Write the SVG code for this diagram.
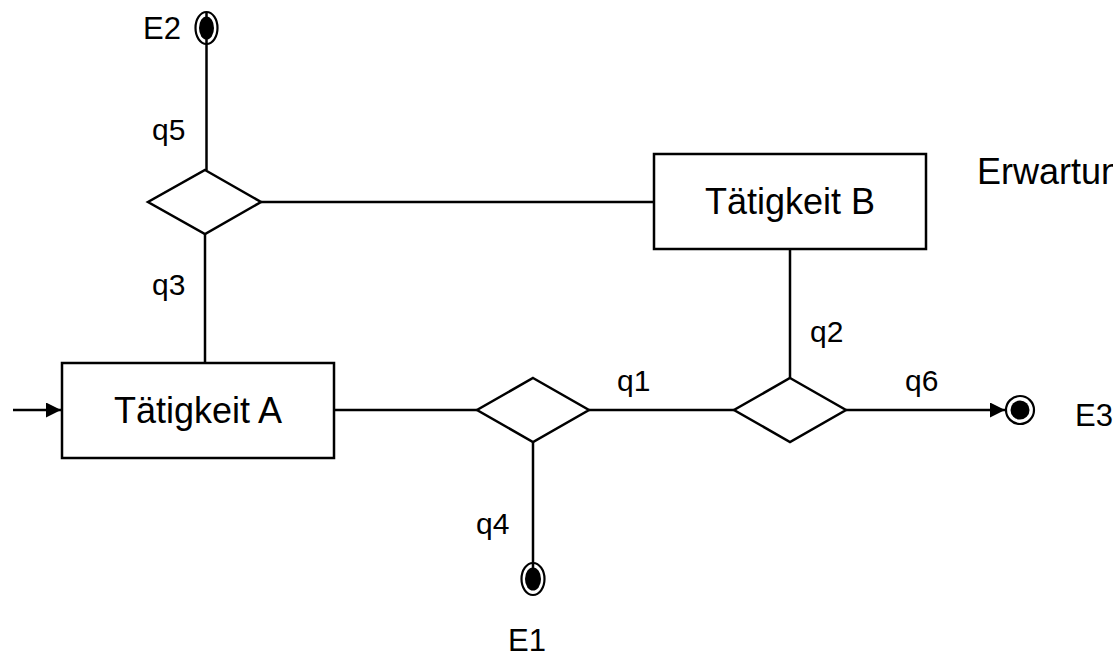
<svg xmlns="http://www.w3.org/2000/svg" width="1113" height="661" viewBox="0 0 1113 661">
  <style>
    .box { fill: #ffffff; stroke: #000000; stroke-width: 2.5; }
    .dia { fill: #ffffff; stroke: #000000; stroke-width: 2.5; stroke-linejoin: miter; }
    .wire { fill: none; stroke: #000000; stroke-width: 2.5; }
    .ring { fill: #ffffff; stroke: #000000; stroke-width: 2.2; }
    .dot { fill: #000000; }
    .big { font-family: "Liberation Sans", Arial, sans-serif; font-size: 36px; fill: #000000; }
    .lbl { font-family: "Liberation Sans", Arial, sans-serif; font-size: 30px; fill: #000000; }
  </style>
  <defs>
    <marker id="head" viewBox="0 0 10 10" refX="10" refY="5" markerWidth="7" markerHeight="6" markerUnits="strokeWidth" orient="auto">
      <path d="M0,0 L10,5 L0,10 Z" fill="#000000"/>
    </marker>
  </defs>
  <rect width="1113" height="661" fill="#ffffff"/>

  <!-- connectors -->
  <g id="connectors">
    <line class="wire" x1="206.5" y1="12" x2="206.5" y2="170"/>
    <line class="wire" x1="205" y1="234" x2="205" y2="363"/>
    <line class="wire" x1="261" y1="202" x2="654" y2="202"/>
    <line class="wire" x1="335" y1="410" x2="477" y2="410"/>
    <line class="wire" x1="589" y1="410" x2="734" y2="410"/>
    <line class="wire" x1="846" y1="410" x2="1005" y2="410" marker-end="url(#head)"/>
    <line class="wire" x1="790" y1="249" x2="790" y2="378"/>
    <line class="wire" x1="533" y1="442" x2="533" y2="563"/>
    <line class="wire" x1="13" y1="410" x2="61" y2="410" marker-end="url(#head)"/>
  </g>

  <!-- activities -->
  <g id="taetigkeit-a">
    <rect class="box" x="62" y="363" width="272" height="95"/>
    <text class="big" x="198" y="423" text-anchor="middle">Tätigkeit A</text>
  </g>
  <g id="taetigkeit-b">
    <rect class="box" x="654" y="154" width="272" height="95"/>
    <text class="big" x="790" y="214" text-anchor="middle">Tätigkeit B</text>
  </g>

  <!-- decision points -->
  <g id="verzweigung-1">
    <polygon class="dia" points="205,170 261,202 205,234 148,202"/>
  </g>
  <g id="verzweigung-2">
    <polygon class="dia" points="533,378 589,410 533,442 477,410"/>
  </g>
  <g id="verzweigung-3">
    <polygon class="dia" points="790,378 846,410 790,442 734,410"/>
  </g>

  <!-- end states -->
  <g id="e2">
    <ellipse class="ring" cx="206.5" cy="28" rx="11" ry="16"/>
    <ellipse class="dot" cx="206.5" cy="28" rx="7.5" ry="11.5"/>
    <line class="wire" x1="206.5" y1="12" x2="206.5" y2="44"/>
    <text class="lbl" x="143" y="39" style="font-size:31px">E2</text>
  </g>
  <g id="e1">
    <ellipse class="ring" cx="533" cy="579" rx="11.5" ry="16"/>
    <ellipse class="dot" cx="533" cy="579" rx="8" ry="11.5"/>
    <line class="wire" x1="533" y1="563" x2="533" y2="570"/>
    <text class="lbl" x="508" y="651" style="font-size:31px">E1</text>
  </g>
  <g id="e3">
    <circle class="ring" cx="1020" cy="410" r="14"/>
    <circle class="dot" cx="1020" cy="410" r="9.5"/>
    <text class="lbl" x="1075" y="426" style="font-size:31px">E3</text>
  </g>

  <!-- flow labels -->
  <g id="labels">
    <text class="lbl" x="152" y="140">q5</text>
    <text class="lbl" x="152" y="295">q3</text>
    <text class="lbl" x="810" y="342">q2</text>
    <text class="lbl" x="617" y="391">q1</text>
    <text class="lbl" x="905" y="391">q6</text>
    <text class="lbl" x="476" y="534">q4</text>
    <text class="big" x="977" y="184">Erwartung</text>
  </g>
</svg>
